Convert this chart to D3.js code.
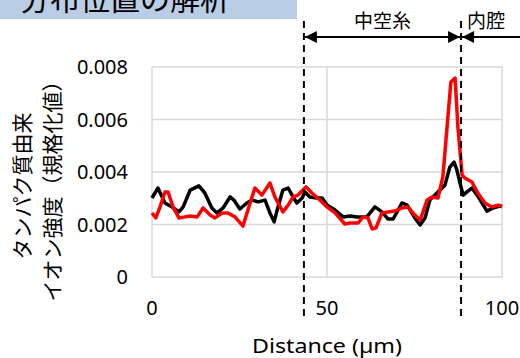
<!DOCTYPE html>
<html>
<head>
<meta charset="utf-8">
<script src="https://cdn.jsdelivr.net/npm/d3@7"></script>
<style>
  body { margin: 0; background: #fff; }
  svg { display: block; font-family: "Noto Sans CJK JP", "Noto Sans", sans-serif; }
  .num { font-family: "Noto Sans", sans-serif; }
</style>
</head>
<body>
<svg width="520" height="358"></svg>
<script>
// distance (um) / normalized ion intensity
var blackDist = [0, 1.7, 3.7, 5.7, 7.7, 8.9, 10.9, 13.4, 15.1, 17.1, 18.6, 20.3, 22.3, 23.4, 25.1, 27.1, 28.6, 30.3, 32.3, 33.7, 34.9, 36, 37.4, 38.9, 40.3, 41.4, 42.9, 43.7, 45.1, 47.1, 48.6, 50, 52.3, 54.6, 56.6, 58.6, 61.4, 63.7, 65.7, 67.4, 68.9, 71.4, 72.9, 75.1, 76.6, 78, 79.4, 81.4, 83.7, 85.1, 86.3, 87.1, 88, 88.9, 90, 91.4, 92.9, 94.3, 95.7, 97.4, 99.4, 100];
var blackVal = [0.00301, 0.00339, 0.00282, 0.00267, 0.00248, 0.00267, 0.00331, 0.00347, 0.0032, 0.00263, 0.00244, 0.00263, 0.00305, 0.00293, 0.00259, 0.00282, 0.00293, 0.00286, 0.00293, 0.00244, 0.0021, 0.00267, 0.00331, 0.00339, 0.00305, 0.00282, 0.00301, 0.00324, 0.00305, 0.00301, 0.00301, 0.00274, 0.00255, 0.00229, 0.00232, 0.00229, 0.00229, 0.00267, 0.00248, 0.00221, 0.00221, 0.00282, 0.00274, 0.00225, 0.00198, 0.00225, 0.00293, 0.0032, 0.0035, 0.00419, 0.00438, 0.00408, 0.00358, 0.00312, 0.00324, 0.00339, 0.00312, 0.00282, 0.00251, 0.00263, 0.0027, 0.00267];
var redDist = [0, 1.1, 2.3, 3.7, 4.6, 6, 7.7, 9.4, 10.9, 12.9, 14.6, 16.6, 18, 20, 21.7, 23.7, 26, 27.4, 29.4, 31.4, 33.7, 35.1, 37.4, 38.9, 40.3, 41.7, 44, 45.7, 48, 50, 52.3, 55.1, 56.6, 58.9, 60.3, 61.7, 62.9, 64, 65.7, 67.4, 69.4, 71.4, 73.1, 75.1, 76.6, 78.6, 80, 81.7, 83.1, 84.3, 85.4, 86.6, 87.4, 88.6, 89.4, 91.4, 93.1, 95.1, 97.1, 98.9, 100];
var redVal = [0.00244, 0.00225, 0.00267, 0.00324, 0.00324, 0.00267, 0.00225, 0.00229, 0.00232, 0.00229, 0.00263, 0.00236, 0.00225, 0.00244, 0.00244, 0.00229, 0.00194, 0.00255, 0.00339, 0.00312, 0.00358, 0.00305, 0.00248, 0.00274, 0.00305, 0.00312, 0.00343, 0.0032, 0.00293, 0.00267, 0.00244, 0.00202, 0.00206, 0.00206, 0.00229, 0.00225, 0.00183, 0.00187, 0.00244, 0.00248, 0.00251, 0.00263, 0.00267, 0.00236, 0.00217, 0.00293, 0.00305, 0.00301, 0.00381, 0.00571, 0.00743, 0.00758, 0.00571, 0.00389, 0.00377, 0.00362, 0.0032, 0.00282, 0.00267, 0.00274, 0.0027];
var xTicks = [0, 50, 100];
var yTicks = [0, 0.002, 0.004, 0.006, 0.008];
var boundaries = [43.4, 88.3];

var svg = d3.select("svg");

var x = d3.scaleLinear().domain([0, 100]).range([152, 502]);
var y = d3.scaleLinear().domain([0, 0.008]).range([277, 67]);

// header box (title runs off the top edge)
svg.append("rect")
    .attr("x", 0).attr("y", 0)
    .attr("width", 297).attr("height", 19)
    .attr("fill", "#b9cde5");
svg.append("text")
    .attr("x", 20).attr("y", 10)
    .attr("font-size", "30px")
    .attr("fill", "#000")
    .text("分布位置の解析");

// gridlines
svg.append("g").selectAll("line")
    .data(yTicks)
    .enter().append("line")
    .attr("x1", x(0)).attr("x2", x(100))
    .attr("y1", function(d){ return y(d); })
    .attr("y2", function(d){ return y(d); })
    .attr("stroke", "#d9d9d9")
    .attr("stroke-width", 1.5);
svg.append("g").selectAll("line")
    .data(xTicks)
    .enter().append("line")
    .attr("x1", function(d){ return x(d); })
    .attr("x2", function(d){ return x(d); })
    .attr("y1", y(0)).attr("y2", y(0.008))
    .attr("stroke", "#d9d9d9")
    .attr("stroke-width", 1.5);

// tick labels
svg.append("g").selectAll("text")
    .data(yTicks)
    .enter().append("text")
    .attr("class", "num")
    .attr("x", 128)
    .attr("y", function(d){ return y(d) + 7; })
    .attr("text-anchor", "end")
    .attr("font-size", "20px")
    .text(function(d){ return d === 0 ? "0" : d.toFixed(3); });
svg.append("g").selectAll("text")
    .data(xTicks)
    .enter().append("text")
    .attr("class", "num")
    .attr("x", function(d){ return x(d); })
    .attr("y", 315)
    .attr("text-anchor", "middle")
    .attr("font-size", "20px")
    .text(function(d){ return d; });

// axis titles
svg.append("text")
    .attr("class", "num")
    .attr("x", 252).attr("y", 353)
    .attr("font-size", "19px")
    .attr("textLength", 150)
    .attr("lengthAdjust", "spacingAndGlyphs")
    .text("Distance (µm)");
var yTitle = svg.append("text")
    .attr("transform", "translate(0,186) rotate(-90)")
    .attr("text-anchor", "middle")
    .attr("font-size", "21px");
yTitle.append("tspan").attr("x", 0).attr("y", 30).text("タンパク質由来");
yTitle.append("tspan").attr("x", 0).attr("y", 60).text("イオン強度（規格化値）");

// lines
var line = d3.line()
    .x(function(d){ return x(d[0]); })
    .y(function(d){ return y(d[1]); });

svg.append("path")
    .datum(d3.zip(blackDist, blackVal))
    .attr("d", line)
    .attr("fill", "none")
    .attr("stroke", "#000")
    .attr("stroke-width", 3.5)
    .attr("stroke-linejoin", "round");
svg.append("path")
    .datum(d3.zip(redDist, redVal))
    .attr("d", line)
    .attr("fill", "none")
    .attr("stroke", "#ff0000")
    .attr("stroke-width", 3.5)
    .attr("stroke-linejoin", "round");

// boundary dashed lines
svg.append("g").selectAll("line")
    .data(boundaries)
    .enter().append("line")
    .attr("x1", function(d){ return x(d); })
    .attr("x2", function(d){ return x(d); })
    .attr("y1", 21).attr("y2", 317)
    .attr("stroke", "#000")
    .attr("stroke-width", 2)
    .attr("stroke-dasharray", "7,5");

// region arrows
var defs = svg.append("defs");
defs.append("marker")
    .attr("id", "head")
    .attr("viewBox", "0 0 10 10")
    .attr("refX", 10).attr("refY", 5)
    .attr("markerWidth", 13).attr("markerHeight", 12)
    .attr("markerUnits", "userSpaceOnUse")
    .attr("orient", "auto-start-reverse")
    .append("path")
    .attr("d", "M0,0 L10,5 L0,10 Z")
    .attr("fill", "#000");

svg.append("line")
    .attr("x1", x(boundaries[0]) + 1).attr("x2", x(boundaries[1]) - 1)
    .attr("y1", 37).attr("y2", 37)
    .attr("stroke", "#000").attr("stroke-width", 2)
    .attr("marker-start", "url(#head)")
    .attr("marker-end", "url(#head)");
svg.append("line")
    .attr("x1", 522).attr("x2", x(boundaries[1]) + 1)
    .attr("y1", 37).attr("y2", 37)
    .attr("stroke", "#000").attr("stroke-width", 2)
    .attr("marker-end", "url(#head)");

svg.append("text")
    .attr("x", (x(boundaries[0]) + x(boundaries[1])) / 2)
    .attr("y", 28)
    .attr("text-anchor", "middle")
    .attr("font-size", "19px")
    .text("中空糸");
svg.append("text")
    .attr("x", x(boundaries[1]) + 6)
    .attr("y", 28)
    .attr("font-size", "19px")
    .text("内腔");
</script>
</body>
</html>
